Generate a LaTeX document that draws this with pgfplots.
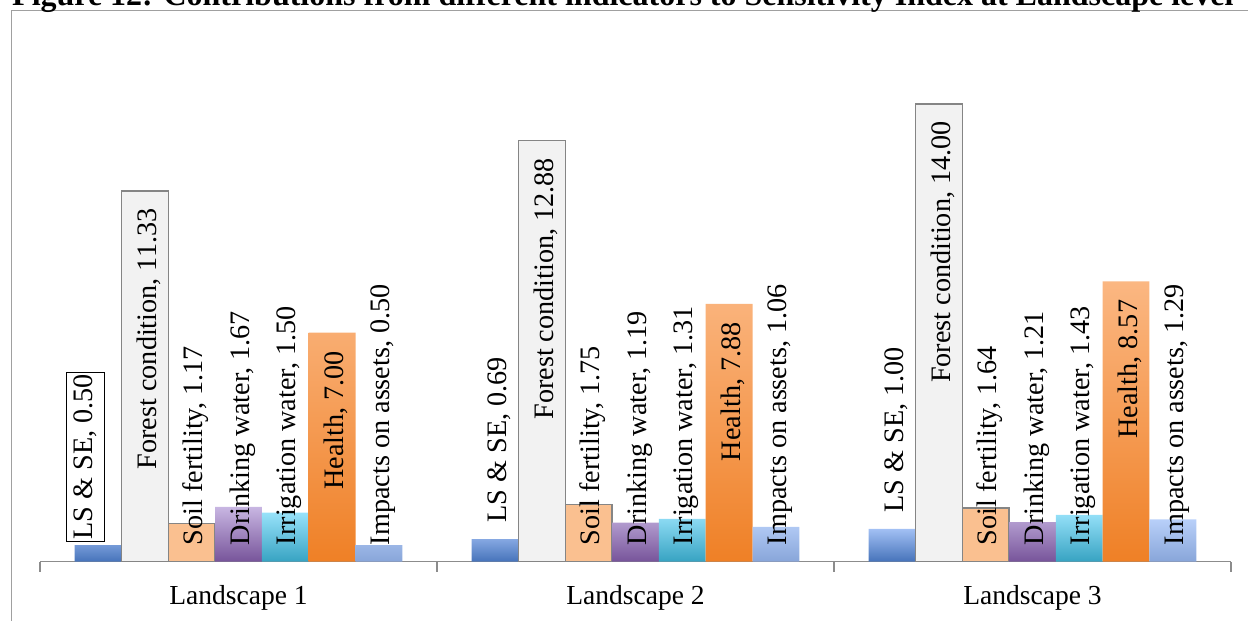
\documentclass[border=0pt]{standalone}
\usepackage{pgfplots}
\pgfplotsset{compat=1.18}
\usepackage{fontspec}
\setmainfont{Liberation Serif}

\definecolor{framegray}{HTML}{A0A0A0}
\definecolor{axisgray}{HTML}{8C8C8C}
\definecolor{edgegray}{HTML}{858585}
\definecolor{lsTop}{HTML}{A2C0F4}
\definecolor{lsBot}{HTML}{4673BA}
\definecolor{forestFill}{HTML}{F2F2F2}
\definecolor{soilFill}{HTML}{FAC090}
\definecolor{drinkTop}{HTML}{C8B6E2}
\definecolor{drinkBot}{HTML}{77549A}
\definecolor{irrTop}{HTML}{98E2FA}
\definecolor{irrBot}{HTML}{37A3C2}
\definecolor{healthTop}{HTML}{FBB782}
\definecolor{healthBot}{HTML}{EF8026}
\definecolor{impTop}{HTML}{B8D0F9}
\definecolor{impBot}{HTML}{88A5D9}

\newcommand\lab{\fontsize{27.5}{33}\selectfont}
\newcommand\barlab{\fontsize{28.2}{34}\selectfont}

\begin{document}
\begin{tikzpicture}[x=1pt,y=1pt,
  lbl/.style={rotate=90, inner sep=0pt, font=\barlab}]
\path[use as bounding box] (0,0) rectangle (1248,621);
\clip (0,0) rectangle (1248,621);

% chart frame
\draw[framegray, line width=1.5pt] (11.5,-10) -- (11.5,610.3) -- (1260,610.3);

% figure caption
\node[anchor=base west, inner sep=0pt, font=\fontsize{32}{38}\selectfont\bfseries]
  at (12,615) {Figure 12: Contributions from different indicators to Sensitivity Index at Landscape level};

\begin{axis}[
  at={(40pt,59.4pt)}, anchor=south west,
  scale only axis, width=1191pt, height=523.2pt,
  xmin=-0.5, xmax=2.5, ymin=0, ymax=16,
  axis y line=none, axis x line*=bottom,
  x axis line style={axisgray, line width=1.2pt},
  xtick={0,1,2},
  xticklabels={Landscape 1, Landscape 2, Landscape 3},
  major tick length=0pt,
  minor xtick={-0.5,0.5,1.5,2.5},
  minor tick length=10pt,
  xtick align=outside,
  minor x tick style={axisgray, line width=1.2pt},
  xticklabel style={font=\lab, anchor=base, inner sep=0pt, yshift=-43.4pt},
  ybar=0pt, bar width=0.1179,
  clip=false,
]
% LS & SE
\addplot[bar shift=-0.3537, draw=none, top color=lsTop, bottom color=lsBot]
  coordinates {(0,0.50) (1,0.69) (2,1.00)};
% Forest condition
\addplot[bar shift=-0.2358, fill=forestFill, draw=edgegray, line width=1.5pt]
  coordinates {(0,11.33) (1,12.88) (2,14.00)};
% Soil fertility
\addplot[bar shift=-0.1179, fill=soilFill, draw=edgegray, line width=1.5pt]
  coordinates {(0,1.17) (1,1.75) (2,1.64)};
% Drinking water
\addplot[bar shift=0, draw=none, top color=drinkTop, bottom color=drinkBot]
  coordinates {(0,1.67) (1,1.19) (2,1.21)};
% Irrigation water
\addplot[bar shift=0.1179, draw=none, top color=irrTop, bottom color=irrBot]
  coordinates {(0,1.50) (1,1.31) (2,1.43)};
% Health
\addplot[bar shift=0.2358, draw=none, top color=healthTop, bottom color=healthBot]
  coordinates {(0,7.00) (1,7.88) (2,8.57)};
% Impacts on assets
\addplot[bar shift=0.3537, draw=none, top color=impTop, bottom color=impBot]
  coordinates {(0,0.50) (1,1.06) (2,1.29)};

% data labels, Landscape 1
\node[lbl, anchor=west, draw=black, line width=1pt, inner xsep=2pt, inner ysep=7pt]
  at (axis cs:-0.3854,0.60) {LS \& SE, 0.50};
\node[lbl, anchor=east] at (axis cs:-0.2258,10.80) {Forest condition, 11.33};
\node[lbl, anchor=west] at (axis cs:-0.1079,0.5) {Soil fertility, 1.17};
\node[lbl, anchor=west] at (axis cs:0.01,0.5) {Drinking water, 1.67};
\node[lbl, anchor=west] at (axis cs:0.1279,0.5) {Irrigation water, 1.50};
\node[lbl, anchor=east] at (axis cs:0.2458,6.44) {Health, 7.00};
\node[lbl, anchor=west] at (axis cs:0.3637,0.5) {Impacts on assets, 0.50};

% data labels, Landscape 2
\node[lbl, anchor=west] at (axis cs:0.6563,1.19) {LS \& SE, 0.69};
\node[lbl, anchor=east] at (axis cs:0.7742,12.35) {Forest condition, 12.88};
\node[lbl, anchor=west] at (axis cs:0.8921,0.5) {Soil fertility, 1.75};
\node[lbl, anchor=west] at (axis cs:1.01,0.5) {Drinking water, 1.19};
\node[lbl, anchor=west] at (axis cs:1.1279,0.5) {Irrigation water, 1.31};
\node[lbl, anchor=east] at (axis cs:1.2458,7.32) {Health, 7.88};
\node[lbl, anchor=west] at (axis cs:1.3637,0.5) {Impacts on assets, 1.06};

% data labels, Landscape 3
\node[lbl, anchor=west] at (axis cs:1.6563,1.50) {LS \& SE, 1.00};
\node[lbl, anchor=east] at (axis cs:1.7742,13.47) {Forest condition, 14.00};
\node[lbl, anchor=west] at (axis cs:1.8921,0.5) {Soil fertility, 1.64};
\node[lbl, anchor=west] at (axis cs:2.01,0.5) {Drinking water, 1.21};
\node[lbl, anchor=west] at (axis cs:2.1279,0.5) {Irrigation water, 1.43};
\node[lbl, anchor=east] at (axis cs:2.2458,8.01) {Health, 8.57};
\node[lbl, anchor=west] at (axis cs:2.3637,0.5) {Impacts on assets, 1.29};
\end{axis}
\end{tikzpicture}
\end{document}
